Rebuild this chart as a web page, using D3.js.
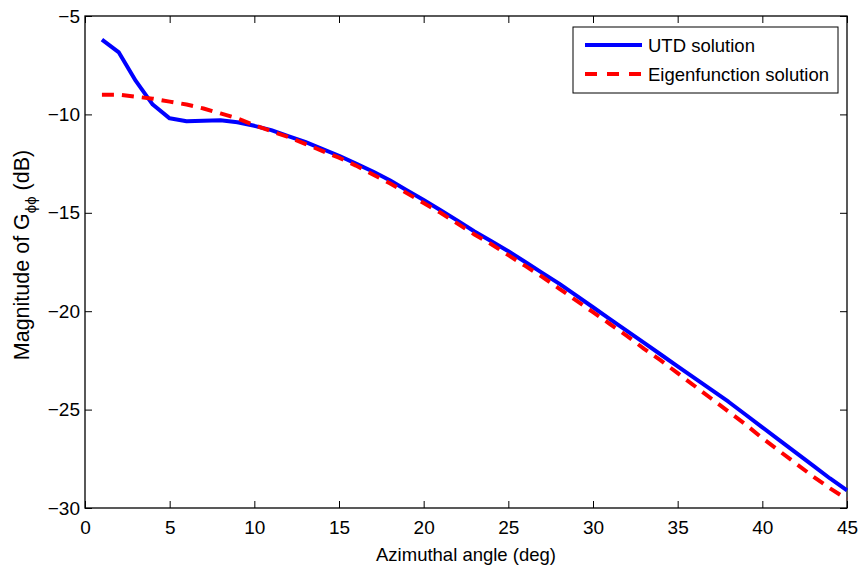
<!DOCTYPE html>
<html>
<head>
<meta charset="utf-8">
<script src="https://cdn.jsdelivr.net/npm/d3@7"></script>
<style>
  html, body { margin: 0; padding: 0; background: #fff; }
  svg { display: block; font-family: "Liberation Sans", Arial, sans-serif; }
</style>
</head>
<body>
<svg id="chart" width="859" height="570"></svg>
<script>
// Azimuthal angle samples (deg)
const angles = d3.range(1, 46);

// UTD solution, |G_phiphi| in dB
const utdValues = [
  -6.2, -6.85, -8.3, -9.5, -10.2, -10.35, -10.32, -10.3, -10.4, -10.58,
  -10.8, -11.1, -11.4, -11.75, -12.1, -12.5, -12.9, -13.35, -13.85, -14.35,
  -14.87, -15.4, -15.95, -16.45, -16.95, -17.5, -18.05, -18.6, -19.2, -19.8,
  -20.4, -21.0, -21.6, -22.2, -22.8, -23.4, -24.0, -24.6, -25.25, -25.9,
  -26.55, -27.2, -27.85, -28.5, -29.1
];

// Eigenfunction solution, |G_phiphi| in dB
const eigenValues = [
  -9.0, -9.0, -9.1, -9.2, -9.35, -9.5, -9.7, -9.95, -10.2, -10.55,
  -10.85, -11.15, -11.5, -11.85, -12.2, -12.6, -13.05, -13.5, -14.0, -14.5,
  -15.0, -15.55, -16.1, -16.6, -17.15, -17.7, -18.25, -18.85, -19.45, -20.05,
  -20.65, -21.25, -21.9, -22.5, -23.15, -23.8, -24.45, -25.1, -25.75, -26.45,
  -27.1, -27.75, -28.4, -29.0, -29.55
];

const xTicks = [0, 5, 10, 15, 20, 25, 30, 35, 40, 45];
const yTicks = [-30, -25, -20, -15, -10, -5];
const seriesNames = ["UTD solution", "Eigenfunction solution"];

const svg = d3.select("#chart");
const plotLeft = 85, plotRight = 847, plotTop = 16, plotBottom = 508;

const x = d3.scaleLinear().domain([0, 45]).range([plotLeft, plotRight]);
const y = d3.scaleLinear().domain([-30, -5]).range([plotBottom, plotTop]);

const tickLen = 7;
const fmt = d => (d < 0 ? "\u2212" + Math.abs(d) : String(d));

// Axes with inward ticks on all four sides
const gx = svg.append("g").attr("transform", `translate(0,${plotBottom})`)
  .call(d3.axisBottom(x).tickValues(xTicks).tickSizeInner(-tickLen).tickSizeOuter(0).tickPadding(13).tickFormat(fmt));
const gxTop = svg.append("g").attr("transform", `translate(0,${plotTop})`)
  .call(d3.axisTop(x).tickValues(xTicks).tickSizeInner(-tickLen).tickSizeOuter(0).tickFormat(""));
const gy = svg.append("g").attr("transform", `translate(${plotLeft},0)`)
  .call(d3.axisLeft(y).tickValues(yTicks).tickSizeInner(-tickLen).tickSizeOuter(0).tickPadding(5).tickFormat(fmt));
const gyRight = svg.append("g").attr("transform", `translate(${plotRight},0)`)
  .call(d3.axisRight(y).tickValues(yTicks).tickSizeInner(-tickLen).tickSizeOuter(0).tickFormat(""));

[gx, gxTop, gy, gyRight].forEach(g => {
  g.select(".domain").remove();
  g.selectAll(".tick line").attr("stroke", "#000").attr("stroke-width", 1);
  g.selectAll(".tick text").attr("fill", "#000").style("font-size", "19px")
   .style("font-family", "'Liberation Sans', Arial, sans-serif");
});

// Plot frame
svg.append("rect")
  .attr("x", plotLeft).attr("y", plotTop)
  .attr("width", plotRight - plotLeft).attr("height", plotBottom - plotTop)
  .attr("fill", "none").attr("stroke", "#000").attr("stroke-width", 1.3);

const line = d3.line().x((d, i) => x(angles[i])).y(d => y(d));

svg.append("path").datum(utdValues)
  .attr("d", line).attr("fill", "none")
  .attr("stroke", "#0000ff").attr("stroke-width", 4).attr("stroke-linejoin", "round");

svg.append("path").datum(eigenValues)
  .attr("d", line).attr("fill", "none")
  .attr("stroke", "#ff0000").attr("stroke-width", 4).attr("stroke-dasharray", "12,8");

// Axis labels
svg.append("text")
  .attr("x", (plotLeft + plotRight) / 2).attr("y", 561)
  .attr("text-anchor", "middle").style("font-size", "18.5px")
  .text("Azimuthal angle (deg)");

const yl = svg.append("text")
  .attr("transform", "translate(29,255) rotate(-90)")
  .attr("text-anchor", "middle").style("font-size", "21.5px");
yl.append("tspan").text("Magnitude of G");
yl.append("tspan").attr("dy", 7).style("font-size", "15px").text("\u03d5\u03d5");
yl.append("tspan").attr("dy", -7).text(" (dB)");

// Legend
const lg = svg.append("g");
lg.append("rect")
  .attr("x", 573).attr("y", 27).attr("width", 265).attr("height", 66)
  .attr("fill", "#fff").attr("stroke", "#000").attr("stroke-width", 1);
const legendStyles = [
  { color: "#0000ff", dash: null },
  { color: "#ff0000", dash: "12,10" }
];
seriesNames.forEach((name, i) => {
  const ly = 45 + i * 29;
  lg.append("line")
    .attr("x1", 585).attr("x2", 642).attr("y1", ly).attr("y2", ly)
    .attr("stroke", legendStyles[i].color).attr("stroke-width", 4)
    .attr("stroke-dasharray", legendStyles[i].dash);
  lg.append("text")
    .attr("x", 648).attr("y", ly + 7)
    .style("font-size", "18.5px").text(name);
});
</script>
</body>
</html>
